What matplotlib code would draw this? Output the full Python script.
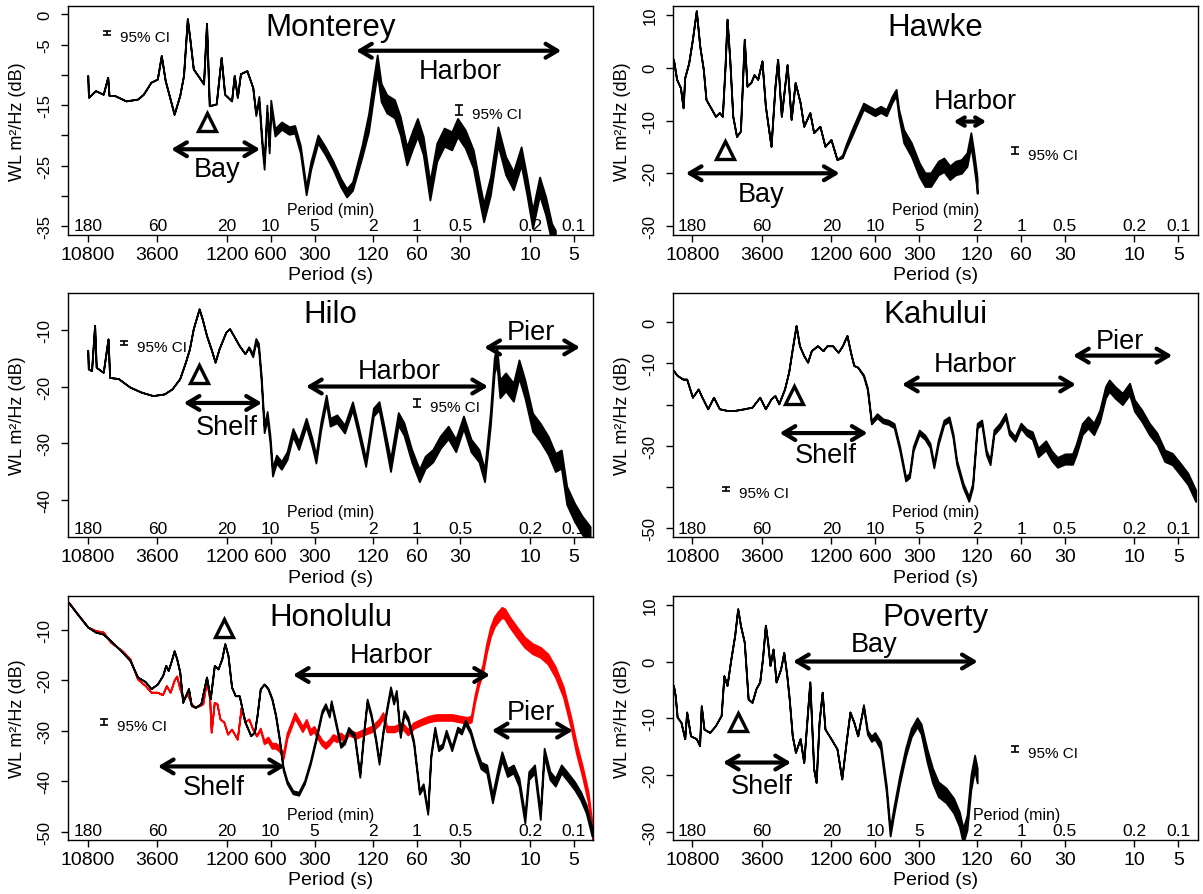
import numpy as np
import matplotlib
matplotlib.use("Agg")
import matplotlib.pyplot as plt
from matplotlib.ticker import NullLocator

plt.rcParams["font.family"] = ["Liberation Sans", "DejaVu Sans"]

SEC_TICKS = [10800, 3600, 1200, 600, 300, 120, 60, 30, 10, 5]
MIN_TICKS = ["180", "60", "20", "10", "5", "2", "1", "0.5", "0.2", "0.1"]

# spectra: period (s) and level (dB)
# *_NOISE_PER / *_NOISE_DB: half-width of the noisy band along the trace
MONTEREY_PER = [10800, 10670, 9557, 8457, 7880, 7720, 7078, 5901, 4920, 4490, 3980, 3600, 3380, 3180,
                2760, 2526, 2380, 2240, 2140, 2040, 1860, 1735, 1655, 1584, 1420, 1313, 1243, 1114,
                1068, 1017, 968, 875, 797, 760, 724, 690, 666, 638, 615, 600, 562, 506, 449, 411, 376,
                343, 319, 285, 253, 224, 199, 181, 165, 142, 128, 118.6, 111.7, 105, 96, 85, 77.6, 70,
                63.6, 59.2, 54.0, 48.6, 43.6, 38.8, 34.4, 31.4, 27.8, 24.5, 21.7, 20.8, 18.7, 16.6,
                14.7, 13.0, 11.5, 10.5, 9.6, 8.6, 7.8, 7.1, 6.7]
MONTEREY_DB = [-10.1, -13.7, -12.6, -13.2, -10.4, -13.4, -13.4, -14.3, -14.0, -13.2, -11.2, -10.7, -6.8,
               -10.9, -16.5, -13.4, -10.1, -0.7, -4.6, -9.0, -10.4, -11.5, -1.5, -15.1, -14.8, -7.1,
               -13.2, -14.3, -10.1, -13.7, -9.8, -9.3, -12.1, -16.5, -14.0, -21.2, -25.0, -15.6, -22.3,
               -14.8, -19.5, -18.4, -19.2, -19.0, -22.3, -29.2, -25.0, -20.6, -22.6, -25.0, -27.8,
               -29.5, -28.4, -22.6, -17.9, -12.3, -8.2, -12.9, -14.8, -15.6, -18.4, -23.4, -20.6,
               -18.7, -21.7, -29.2, -22.8, -20.3, -20.9, -18.7, -20.6, -23.9, -30.6, -32.8, -28.4,
               -20.1, -25.0, -27.5, -23.4, -28.4, -33.9, -28.4, -31.7, -36.1, -37.2]
MONTEREY_NOISE_PER = [800, 700, 150, 128]
MONTEREY_NOISE_DB = [0.0, 0.6, 0.7, 1.5]

HAWKE_PER = [14590, 13860, 13050, 12520, 12200, 11460, 10800, 10160, 9620, 9096, 8720, 7970, 7510,
             7060, 6730, 6450, 6250, 5990, 5710, 5380, 5060, 4760, 4560, 4290, 4080, 3850, 3600,
             3410, 3120, 2930, 2810, 2650, 2420, 2270, 2130, 1970, 1860, 1690, 1590, 1440, 1330,
             1210, 1100, 1010, 952, 868, 793, 724, 662, 604, 552, 504, 461, 432, 415, 383, 340,
             300, 274, 250, 222, 203, 185, 169, 154, 141, 132.6, 127.2, 121.2, 120]
HAWKE_DB = [1.6, -2.2, -3.8, -7.6, -1.9, 0.9, 5.4, 10.8, 4.1, -0.3, -6.0, -7.9, -9.2, -8.5, -9.2,
            0.3, 9.2, 1.6, -9.2, -13.0, -12.0, 5.4, -3.5, -2.8, -1.3, -2.2, 1.3, -7.3, -14.9, -3.5,
            1.6, -9.2, 0.6, -9.8, -2.8, -6.6, -11.1, -8.5, -12.3, -11.1, -14.9, -13.6, -17.4,
            -16.8, -14.9, -12.3, -9.8, -7.3, -7.9, -8.5, -7.9, -8.5, -6.0, -4.7, -8.5, -13.0,
            -15.5, -19.3, -21.2, -21.2, -19.0, -18.4, -19.9, -19.0, -18.7, -17.4, -13.6, -16.8,
            -21.2, -22.5]
HAWKE_NOISE_PER = [1100, 900, 420, 380]
HAWKE_NOISE_DB = [0.0, 0.6, 0.6, 1.3]

HILO_PER = [10800, 10700, 10170, 9690, 9450, 8457, 7840, 7640, 6660, 5550, 4630, 3860, 3220, 2850,
            2526, 2310, 2170, 2040, 1920, 1860, 1770, 1655, 1530, 1445, 1360, 1220, 1150, 1080,
            987, 902, 850, 797, 760, 729, 698, 666, 635, 608, 584, 549, 507, 464, 423, 386, 343,
            313, 294, 272, 250, 235, 211, 187, 165, 151, 134, 118.6, 108.5, 102, 90.5, 80.1,
            73.2, 64.8, 57.4, 52.4, 46.4, 41.2, 36.4, 32.3, 28.6, 25.4, 22.4, 20.5, 18.7, 17.6,
            16.9, 16.1, 14.7, 13.0, 11.9, 10.85, 9.6, 8.5, 7.5, 6.7, 6.1, 5.6, 4.95, 4.38, 3.87]
HILO_DB = [-13.6, -16.9, -17.2, -9.2, -16.6, -17.5, -11.6, -18.4, -18.6, -20.1, -21.0, -21.6, -21.3,
           -20.4, -18.6, -15.7, -13.4, -9.8, -7.5, -6.3, -8.1, -11.0, -13.6, -15.7, -13.4, -10.4,
           -9.8, -11.0, -12.8, -14.2, -13.1, -14.5, -11.9, -12.8, -18.6, -27.5, -25.1, -29.2,
           -35.1, -32.8, -33.9, -32.2, -28.1, -30.4, -26.3, -29.8, -32.8, -26.9, -22.2, -26.3,
           -25.7, -27.5, -23.4, -27.5, -33.4, -24.5, -23.4, -26.9, -33.9, -25.7, -27.5, -32.2,
           -35.7, -33.4, -32.2, -29.8, -28.1, -30.4, -26.3, -30.4, -32.2, -35.7, -25.7, -16.3,
           -14.5, -20.4, -19.2, -21.0, -16.9, -20.4, -26.3, -28.1, -30.4, -33.4, -32.8, -39.2,
           -42.2, -44.5, -46.3]
HILO_NOISE_PER = [900, 650, 110, 90, 20, 16]
HILO_NOISE_DB = [0.0, 0.7, 0.7, 1.1, 1.1, 1.6]

KAHULUI_PER = [14590, 13750, 12560, 11830, 10800, 9860, 9290, 8480, 7740, 7060, 6250, 5540, 4760,
               4210, 3730, 3410, 3120, 2930, 2760, 2520, 2360, 2230, 2100, 1990, 1860, 1750, 1650,
               1500, 1370, 1290, 1180, 1080, 1010, 940, 888, 843, 793, 724, 680, 639, 584, 534,
               488, 446, 408, 372, 350, 330, 300, 274, 253, 238, 222, 203, 187, 176, 166, 150,
               137, 129, 120, 111.7, 104, 97.8, 92.1, 84.0, 76.7, 72.3, 66.0, 60.2, 55.0, 50.2,
               45.8, 40.6, 37.0, 33.8, 30.0, 26.6, 25.0, 22.8, 20.8, 19.0, 17.3, 15.8, 14.9, 13.6,
               12.1, 10.8, 10.0, 8.9, 7.9, 7.0, 6.2, 5.5, 4.85, 4.3, 3.8]
KAHULUI_DB = [-11.7, -12.9, -13.8, -13.8, -18.2, -16.2, -18.2, -21.0, -18.2, -21.0, -21.4, -21.4,
              -21.0, -20.6, -18.2, -21.0, -18.6, -17.8, -19.8, -16.2, -12.1, -6.5, -0.8, -5.7,
              -8.1, -9.7, -6.9, -5.7, -6.9, -5.7, -5.7, -7.3, -5.7, -3.2, -7.3, -10.5, -10.9,
              -12.9, -16.2, -24.3, -22.7, -23.9, -24.3, -25.1, -30.7, -38.0, -37.2, -30.7, -26.7,
              -27.9, -29.9, -34.8, -29.1, -24.3, -23.5, -27.5, -34.0, -39.6, -42.9, -39.6, -25.1,
              -24.3, -31.6, -34.0, -26.7, -25.1, -22.7, -26.7, -28.3, -25.1, -26.7, -27.5, -31.6,
              -29.9, -32.4, -34.0, -33.2, -33.2, -30.7, -25.9, -24.3, -25.9, -22.7, -17.0, -15.4,
              -17.0, -18.6, -16.2, -20.2, -22.7, -25.9, -28.3, -32.4, -33.2, -35.6, -38.0, -42.1]
KAHULUI_NOISE_PER = [800, 600, 60, 45, 20]
KAHULUI_NOISE_DB = [0.0, 0.5, 0.6, 1.1, 1.4]

HONOLULU_PER = [14680, 12970, 10800, 9557, 8457, 7530, 6250, 5550, 4920, 4360, 3980, 3600, 3310,
                3150, 3030, 2880, 2760, 2650, 2526, 2410, 2310, 2200, 2106, 1980, 1810, 1655, 1560,
                1463, 1380, 1300, 1240, 1180, 1114, 1050, 987, 902, 823, 776, 745, 708, 666, 627,
                590, 556, 524, 493, 464, 423, 386, 352, 321, 294, 268, 253, 238, 231, 218, 199,
                187, 176, 160, 147, 138, 131, 123, 114.6, 108.5, 102, 96, 90.5, 86.2, 82.6, 77.6,
                73.2, 68.8, 62.9, 57.4, 54.0, 50.3, 47.9, 45.0, 42.4, 39.9, 37.6, 34.4, 31.4, 29.5,
                27.8, 25.6, 23.8, 21.7, 19.8, 18.1, 16.6, 15.6, 14.3, 13.0, 11.9, 10.85, 10.2, 9.3,
                8.5, 8.0, 7.3, 6.7, 6.1, 5.6, 4.95, 4.5, 4.12, 3.76]
HONOLULU_DB = [-4.6, -6.6, -9.5, -10.5, -10.9, -12.2, -14.5, -16.1, -19.4, -20.3, -21.7, -20.8,
               -19.1, -17.1, -18.1, -16.1, -14.2, -15.8, -18.4, -24.4, -23.1, -21.7, -25.0, -25.4,
               -24.7, -19.4, -23.7, -17.1, -17.8, -15.8, -12.8, -15.1, -21.4, -23.1, -23.1, -28.3,
               -31.0, -30.3, -27.0, -21.7, -20.8, -21.7, -23.7, -27.0, -31.7, -37.6, -40.2, -42.2,
               -42.5, -40.2, -36.3, -31.7, -26.4, -25.0, -27.0, -24.4, -27.7, -33.0, -32.3, -29.7,
               -31.0, -38.9, -30.3, -24.1, -27.0, -31.7, -36.3, -30.3, -25.7, -21.7, -24.4, -22.4,
               -31.0, -26.4, -27.7, -32.3, -42.2, -40.9, -46.2, -35.0, -29.7, -33.6, -33.0, -30.3,
               -33.6, -29.7, -30.3, -28.3, -30.3, -33.6, -36.9, -37.6, -43.5, -38.3, -35.0, -38.3,
               -37.6, -40.2, -47.5, -38.9, -37.6, -46.8, -34.3, -38.9, -40.2, -37.6, -38.9, -40.9,
               -42.9, -45.5, -50.1]
HONOLULU_NOISE_PER = [700, 500, 25, 20]
HONOLULU_NOISE_DB = [0.0, 0.3, 0.4, 0.8]

# second Honolulu record (red)
HONOLULU2_PER = [14610, 12950, 10800, 9557, 8457, 7530, 6263, 5550, 4916, 4355, 3976, 3600, 3316,
                 3122, 2939, 2766, 2651, 2525, 2377, 2237, 2106, 1982, 1866, 1756, 1653, 1575, 1537,
                 1464, 1404, 1337, 1259, 1185, 1115, 1018, 958, 902, 849, 799, 752, 708, 667, 627,
                 590, 556, 523, 492, 464, 436, 411, 387, 364, 342, 322, 303, 286, 269, 253, 238,
                 224, 211, 199, 187, 176, 156, 138, 122, 108.4, 102, 96, 85.1, 75.4, 68.8, 62.8,
                 55.7, 49.3, 43.7, 38.7, 34.3, 30.4, 26.9, 25.3, 23.9, 22.5, 21.1, 19.9, 18.7, 17.6,
                 16.6, 15.6, 14.9, 13.8, 12.3, 10.9, 9.6, 8.5, 7.55, 6.7, 5.9, 5.25, 4.8, 4.38, 4.0,
                 3.7]
HONOLULU2_DB = [-4.6, -6.6, -9.5, -10.2, -10.5, -12.5, -14.2, -15.8, -19.8, -21.1, -22.4, -22.4,
                -22.9, -21.1, -22.4, -20.1, -19.2, -21.7, -23.7, -22.7, -24.7, -25.4, -25.1, -24.7,
                -20.1, -23.7, -30.3, -24.4, -24.7, -27.7, -28.3, -30.7, -29.7, -31.7, -25.4, -28.3,
                -27.7, -29.7, -31.0, -29.7, -32.3, -31.7, -33.0, -33.0, -33.6, -35.0, -31.0, -29.0,
                -27.0, -28.3, -29.7, -28.3, -30.3, -29.7, -31.0, -32.3, -33.0, -32.3, -31.3, -31.7,
                -31.0, -31.7, -30.3, -31.0, -30.3, -29.7, -28.3, -27.0, -29.7, -29.7, -29.0, -30.3,
                -29.0, -28.3, -27.7, -27.4, -27.4, -27.4, -27.7, -28.0, -27.7, -23.7, -20.4, -17.8,
                -13.8, -10.5, -8.5, -7.5, -6.6, -6.9, -8.5, -10.5, -12.5, -13.8, -14.5, -15.8,
                -18.4, -22.4, -28.3, -33.6, -38.0, -43.0, -50.8]
HONOLULU2_NOISE_PER = [800, 600, 25, 18]
HONOLULU2_NOISE_DB = [0.0, 0.5, 0.6, 1.0]

POVERTY_PER = [14590, 14180, 13750, 12950, 12200, 11830, 11130, 10160, 9650, 9390, 9000, 8220, 7510,
               6860, 6570, 6250, 5880, 5540, 5280, 5060, 4760, 4480, 4210, 3960, 3730, 3570, 3410,
               3290, 3170, 3020, 2880, 2680, 2550, 2430, 2340, 2230, 2120, 1970, 1860, 1690, 1590,
               1530, 1460, 1390, 1330, 1210, 1100, 1020, 952, 896, 843, 793, 724, 680, 639, 604,
               552, 504, 475, 446, 408, 372, 340, 310, 291, 265, 243, 222, 196, 174, 159, 150,
               141, 132.6, 125, 120]
POVERTY_DB = [-4.2, -6.0, -9.8, -10.7, -13.6, -8.9, -13.1, -13.6, -14.8, -7.8, -11.9, -12.5, -11.3,
              -9.5, -2.5, -4.2, 0.5, 4.6, 9.3, 6.4, 3.4, -6.6, -7.2, -4.8, -3.6, 0.5, 6.4, 3.4,
              -0.7, 2.2, -3.6, -1.3, 1.6, -2.5, -6.6, -13.1, -16.0, -13.6, -17.8, -3.6, -18.9,
              -21.3, -10.7, -5.4, -11.9, -13.6, -15.4, -20.7, -14.2, -8.9, -10.7, -13.1, -7.8,
              -12.5, -13.6, -13.1, -14.8, -22.5, -30.1, -26.0, -20.7, -16.0, -12.5, -10.7, -11.9,
              -16.6, -20.1, -22.5, -23.6, -25.4, -27.8, -30.7, -28.4, -21.3, -17.8, -20.1]
POVERTY_NOISE_PER = [800, 600, 300, 250]
POVERTY_NOISE_DB = [0.0, 0.6, 0.8, 1.3]

# figure layout, in pixels of the 1203x895 canvas
FIG_W, FIG_H = 1203, 895
COL_X = [(68.0, 593.3), (672.7, 1197.7)]
ROW_Y = [(7.0, 235.5), (294.0, 538.3), (596.7, 840.7)]

# arrows: (from period, to period, level, head scale)
PANELS = [
    dict(name="Monterey", row=0, col=0, ylim=(-36.4, 1.4), yticks=list(range(-35, 1, 5)),
         ylabels=[0, -5, -15, -25, -35],
         traces=[(MONTEREY_PER, MONTEREY_DB, MONTEREY_NOISE_PER, MONTEREY_NOISE_DB, "black")],
         arrows=[(156, 6.1, -6.0, 20), (2892, 709, -22.3, 20)],
         labels=[("Harbor", 30.2, -9.3), ("Bay", 1397, -25.6)],
         tri=(1648, -17.8), ci=[(7960, -3.1, 0.33), (30.6, -15.8, 0.83)], minx=0.5),
    dict(name="Hawke", row=0, col=1, ylim=(-31.6, 11.7), yticks=[10, 0, -10, -20, -30],
         ylabels=[10, 0, -10, -20, -30],
         traces=[(HAWKE_PER, HAWKE_DB, HAWKE_NOISE_PER, HAWKE_NOISE_DB, "black")],
         arrows=[(174, 104, -10.2, 12), (12000, 1055, -20.0, 20)],
         labels=[("Harbor", 123, -6.3), ("Bay", 3630, -24.0)],
         tri=(6430, -15.6), ci=[(66.5, -15.7, 0.66)], minx=0.5),
    dict(name="Hilo", row=1, col=0, ylim=(-46.6, -3.5), yticks=[-10, -20, -30, -40],
         ylabels=[-10, -20, -30, -40],
         traces=[(HILO_PER, HILO_DB, HILO_NOISE_PER, HILO_NOISE_DB, "black")],
         arrows=[(20.6, 4.54, -13.1, 20), (344, 19.4, -20.0, 20), (2373, 689, -22.9, 20)],
         labels=[("Pier", 9.85, -10.4), ("Harbor", 79, -17.2), ("Shelf", 1197, -27.2)],
         tri=(1862, -17.8), ci=[(6050, -12.35, 0.38), (59.5, -22.9, 0.73)], minx=0.5),
    dict(name="Kahului", row=1, col=1, ylim=(-52.2, 7.1), yticks=[0, -10, -20, -30, -40, -50],
         ylabels=[0, -10, -30, -50],
         traces=[(KAHULUI_PER, KAHULUI_DB, KAHULUI_NOISE_PER, KAHULUI_NOISE_DB, "black")],
         arrows=[(26.4, 5.5, -8.1, 20), (394, 25.2, -15.1, 20), (2724, 678, -26.9, 20)],
         labels=[("Pier", 12.6, -4.5), ("Harbor", 123, -10.1), ("Shelf", 1318, -32.2)],
         tri=(2170, -17.6), ci=[(6360, -40.5, 0.57)], minx=0.5),
    dict(name="Honolulu", row=2, col=0, ylim=(-51.6, -3.3), yticks=[-10, -20, -30, -40, -50],
         ylabels=[-10, -20, -30, -40, -50],
         traces=[(HONOLULU2_PER, HONOLULU2_DB, HONOLULU2_NOISE_PER, HONOLULU2_NOISE_DB, "red"),
                 (HONOLULU_PER, HONOLULU_DB, HONOLULU_NOISE_PER, HONOLULU_NOISE_DB, "black")],
         arrows=[(423, 18.8, -19.0, 20), (18.3, 5.08, -30.0, 20), (3570, 479, -37.1, 20)],
         labels=[("Harbor", 89, -15.1), ("Pier", 9.85, -26.4), ("Shelf", 1483, -41.2)],
         tri=(1257, -9.7), ci=[(8340, -28.3, 0.66)], minx=0.5),
    dict(name="Poverty", row=2, col=1, ylim=(-31.4, 11.6), yticks=[10, 0, -10, -20, -30],
         ylabels=[10, 0, -10, -20, -30],
         traces=[(POVERTY_PER, POVERTY_DB, POVERTY_NOISE_PER, POVERTY_NOISE_DB, "black")],
         arrows=[(2205, 119, 0.0, 20), (6670, 2273, -17.8, 20)],
         labels=[("Bay", 611, 3.1), ("Shelf", 3630, -21.9)],
         tri=(5240, -10.7), ci=[(66.5, -15.4, 0.59)], minx=0.656),
]


def draw_panel(fig, spec):
    x0, x1 = COL_X[spec["col"]]
    y0, y1 = ROW_Y[spec["row"]]
    w_px, h_px = x1 - x0, y1 - y0
    ax = fig.add_axes([x0 / FIG_W, 1 - y1 / FIG_H, w_px / FIG_W, h_px / FIG_H])

    ax.set_xscale("log")
    ax.set_xlim(14750, 3.68)
    ax.set_ylim(*spec["ylim"])

    # spectra: a filled band whose width follows the noise of the trace
    for per, db, npr, ndb, color in spec["traces"]:
        per = np.asarray(per, float)
        db = np.asarray(db, float)
        half = np.interp(-np.log10(per), -np.log10(npr), ndb)
        ax.fill_between(per, db - half, db + half, facecolor=color, edgecolor=color,
                        lw=1.3, joinstyle="round")

    # axes and ticks
    for sp in ax.spines.values():
        sp.set_linewidth(1.0)
    ax.set_xticks(SEC_TICKS, labels=[str(t) for t in SEC_TICKS])
    ax.xaxis.set_minor_locator(NullLocator())
    ax.set_yticks(spec["yticks"],
                  labels=[str(t) if t in spec["ylabels"] else "" for t in spec["yticks"]])
    ax.tick_params(axis="x", direction="out", length=5, width=1, labelsize=14, pad=3)
    ax.tick_params(axis="y", direction="out", length=5, width=1, labelsize=12, pad=6)
    for lbl in ax.get_yticklabels():
        lbl.set_rotation(90)
        lbl.set_va("center")

    ax.set_xlabel("Period (s)", fontsize=14)
    ax.xaxis.set_label_coords(0.5, -40.0 / h_px)
    ax.xaxis.label.set_va("center")
    ax.set_ylabel("WL m²/Hz (dB)", fontsize=13)
    ax.yaxis.set_label_coords(-50.0 / w_px, 0.5)
    ax.yaxis.label.set_va("center")

    # period in minutes written inside the frame
    for sec, m in zip(SEC_TICKS, MIN_TICKS):
        ax.annotate(m, xy=(sec, 0), xycoords=("data", "axes fraction"), xytext=(0, 9),
                    textcoords="offset pixels", ha="center", va="center", fontsize=12.5)
    ax.annotate("Period (min)", xy=(spec["minx"], 0), xycoords="axes fraction",
                xytext=(0, 25.5), textcoords="offset pixels", ha="center", va="center",
                fontsize=11.5)

    ax.annotate(spec["name"], xy=(0.5, 1), xycoords="axes fraction", xytext=(0, -21),
                textcoords="offset pixels", ha="center", va="center", fontsize=22.5)

    for p0, p1, y, head in spec["arrows"]:
        ax.annotate("", xy=(p1, y), xytext=(p0, y),
                    arrowprops=dict(arrowstyle="<->,head_length=0.42,head_width=0.25",
                                    lw=3.0, color="black", mutation_scale=head,
                                    shrinkA=0, shrinkB=0))
    for text, p, y in spec["labels"]:
        ax.text(p, y, text, ha="center", va="center", fontsize=19.5)

    tp, ty = spec["tri"]
    ax.plot([tp], [ty], marker="^", ms=13, mfc="none", mec="black", mew=2.4, ls="none")

    for p, y, half in spec["ci"]:
        ax.errorbar([p], [y], yerr=[half], color="black", lw=1.2, capsize=3.2, capthick=1.2,
                    fmt="none")
        ax.annotate("95% CI", xy=(p, y), xytext=(13, -4), textcoords="offset pixels",
                    ha="left", va="center", fontsize=11)
    return ax


fig = plt.figure(figsize=(FIG_W / 100, FIG_H / 100), dpi=100)
for spec in PANELS:
    draw_panel(fig, spec)

fig.savefig("out.png", dpi=100)
